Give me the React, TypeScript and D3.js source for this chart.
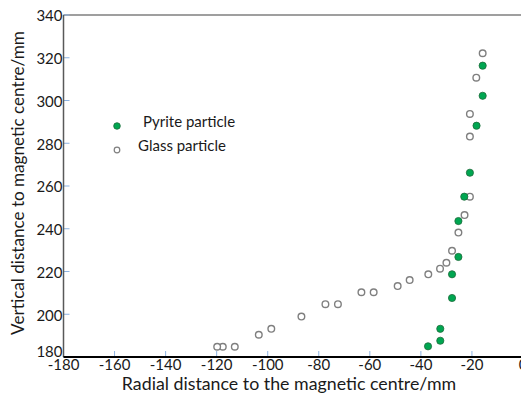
import React from 'react';
import * as d3 from 'd3';

// values
const pyriteX = [-15.8, -15.8, -18.2, -20.8, -23.0, -25.3, -25.3, -27.8, -27.8, -32.4, -32.4, -37.2];
const pyriteY = [316.3, 302.2, 288.2, 266.2, 255.0, 243.6, 226.8, 218.7, 207.6, 193.2, 187.6, 185.0];

const glassX = [-15.8, -18.3, -20.8, -20.8, -20.8, -22.9, -25.3, -27.8, -30.0, -32.5, -37.1, -44.4, -49.1, -58.5, -63.3, -72.5, -77.4, -86.8, -98.6, -103.5, -112.9, -117.6, -119.8];
const glassY = [322.1, 310.7, 293.7, 283.1, 255.0, 246.4, 238.2, 229.7, 224.1, 221.3, 218.7, 216.0, 213.2, 210.3, 210.3, 204.7, 204.7, 198.9, 193.2, 190.4, 184.8, 184.8, 184.8];

const xTicks = [-180, -160, -140, -120, -100, -80, -60, -40, -20, 0];
const yTicks = [180, 200, 220, 240, 260, 280, 300, 320, 340];

const seriesNames = ['Pyrite particle', 'Glass particle'];
const xTitle = 'Radial distance to the magnetic centre/mm';
const yTitle = 'Vertical distance to magnetic centre/mm';

const W = 521;
const H = 403;
const font = 'Lato, "Open Sans", sans-serif';

const App: React.FC = () => {
  const x = d3.scaleLinear().domain([-180, 0]).range([63.5, 523]);
  const y = d3.scaleLinear().domain([180, 340]).range([357, 15]);

  const pyrite = d3.zip(pyriteX, pyriteY);
  const glass = d3.zip(glassX, glassY);

  return (
    <div style={{ position: 'fixed', left: 0, top: 0 }}>
      <svg width={W} height={H} style={{ display: 'block', background: '#fff' }}>
        {/* top border of plot area */}
        <line x1={x(-180)} x2={W} y1={y(340)} y2={y(340)} stroke="#7f7f7f" strokeWidth={1.5} />

        {/* ticks, drawn inside */}
        {xTicks.map(t => (
          <line key={'xt' + t} x1={x(t)} x2={x(t)} y1={y(180)} y2={y(180) - 6} stroke="#8db3e2" strokeWidth={1} />
        ))}
        {yTicks.map(t => (
          <line key={'yt' + t} x1={x(-180)} x2={x(-180) + 6} y1={y(t)} y2={y(t)} stroke="#8db3e2" strokeWidth={1} />
        ))}

        {/* axes */}
        <line x1={x(-180)} x2={x(-180)} y1={y(340)} y2={y(180)} stroke="#595959" strokeWidth={1.5} />
        <line x1={x(-180)} x2={W} y1={y(180)} y2={y(180)} stroke="#000" strokeWidth={2} />

        {/* tick labels */}
        {xTicks.map(t => (
          <text key={'xl' + t} x={x(t)} y={370} textAnchor="middle" fontFamily={font} fontSize={15} fill="#1a1a1a">
            {t}
          </text>
        ))}
        {yTicks.map(t => (
          <text key={'yl' + t} x={x(-180) - 1} y={t === 180 ? y(t) - 5 : y(t) + 1} dy="0.35em" textAnchor="end" fontFamily={font} fontSize={15} fill="#1a1a1a">
            {t}
          </text>
        ))}

        {/* axis titles */}
        <text x={289} y={390} textAnchor="middle" fontFamily={font} fontSize={17.8} fill="#1a1a1a">
          {xTitle}
        </text>
        <text transform={`translate(24,183) rotate(-90)`} textAnchor="middle" fontFamily={font} fontSize={17.1} fill="#1a1a1a">
          {yTitle}
        </text>

        {/* points */}
        {glass.map(([gx, gy], i) => (
          <circle key={'g' + i} cx={x(gx)} cy={y(gy)} r={3.3} fill="#fff" stroke="#7f7f7f" strokeWidth={1.4} />
        ))}
        {pyrite.map(([px, py], i) => (
          <circle key={'p' + i} cx={x(px)} cy={y(py)} r={3.6} fill="#00a651" stroke="#1d6b3a" strokeWidth={0.8} />
        ))}

        {/* legend */}
        <circle cx={117} cy={126} r={3.3} fill="#00a651" stroke="#1d6b3a" strokeWidth={0.8} />
        <text x={143} y={127} fontFamily={font} fontSize={15} fill="#1a1a1a">{seriesNames[0]}</text>
        <circle cx={117} cy={150} r={2.8} fill="#fff" stroke="#7f7f7f" strokeWidth={1.2} />
        <text x={138} y={151} fontFamily={font} fontSize={15} fill="#1a1a1a">{seriesNames[1]}</text>
      </svg>
    </div>
  );
};

export default App;
